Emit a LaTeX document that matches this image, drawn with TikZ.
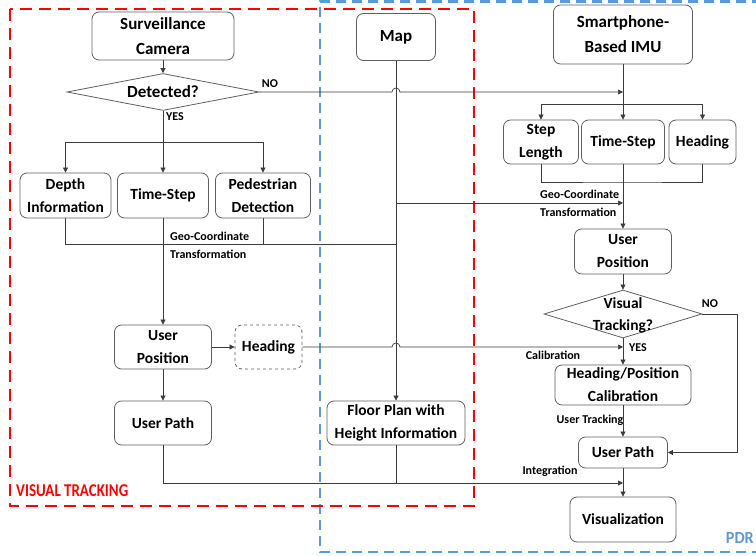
\documentclass[tikz,border=0pt]{standalone}
\usepackage{fontspec}
\setmainfont{Carlito}
\usetikzlibrary{shapes.geometric,arrows.meta,calc}
\definecolor{boxline}{RGB}{95,95,95}
\definecolor{wirecol}{RGB}{60,60,60}
\definecolor{vtred}{RGB}{255,0,0}
\definecolor{pdrblue}{RGB}{91,155,213}
\begin{document}
\begin{tikzpicture}[x=1pt,y=-1pt,
  box/.style={draw=boxline, line width=0.8pt, rounded corners=7pt, fill=white,
    align=center, inner sep=0pt, font=\fontsize{15.5}{23}\selectfont\bfseries},
  topbox/.style={box, font=\fontsize{17}{25}\selectfont\bfseries},
  decision/.style={draw=boxline, line width=0.8pt, diamond, inner sep=0pt, fill=white},
  wire/.style={draw=wirecol, line width=0.7pt},
  arr/.style={wire, -{Triangle[length=5pt,width=5pt]}},
  tag/.style={font=\fontsize{12}{18}\selectfont\bfseries, inner sep=0pt, align=left},
  frametag/.style={font=\fontsize{18}{20}\selectfont\bfseries, inner sep=0pt},
]
\useasboundingbox (0,0) rectangle (756,556);

% group frames
\draw[pdrblue, line width=2.6pt, dash pattern=on 10pt off 6pt]
  (762,1.5) -- (320,1.5) -- (320,552) -- (762,552);
\draw[vtred, line width=2.6pt, dash pattern=on 12pt off 7pt]
  (10,9) rectangle (474,506);
\node[frametag, text=vtred, anchor=west] (vtlabel) at (16,491) {\scalebox{0.83}[1]{VISUAL TRACKING}};
\node[frametag, text=pdrblue, anchor=east, font=\fontsize{17}{20}\selectfont\bfseries] (pdrlabel) at (754,538) {\scalebox{0.95}[1]{PDR}};

% visual tracking column
\node[topbox, minimum width=142pt, minimum height=48pt] (cam) at (163,36) {Surveillance\\Camera};
\node[decision, aspect=5, minimum width=192pt, minimum height=37pt,
      font=\fontsize{17}{20}\selectfont\bfseries] (det) at (163,92) {Detected?};
\node[box, minimum width=91pt, minimum height=45pt] (dep) at (65.5,195.5) {Depth\\Information};
\node[box, minimum width=91pt, minimum height=45pt] (ts1) at (163,195.5) {Time-Step};
\node[box, minimum width=95pt, minimum height=45pt] (ped) at (263,195.5) {Pedestrian\\Detection};
\node[box, minimum width=97pt, minimum height=44pt] (up1) at (163,347) {User\\Position};
\node[box, dashed, minimum width=67pt, minimum height=44pt] (hd1) at (268.5,347) {Heading};
\node[box, minimum width=97pt, minimum height=44pt] (path1) at (163,423) {User Path};

% map column
\node[topbox, minimum width=79pt, minimum height=47pt] (map) at (396,37) {Map};
\node[box, minimum width=138pt, minimum height=44pt] (fp) at (396,423) {Floor Plan with\\Height Information};

% PDR column
\node[topbox, minimum width=139pt, minimum height=59pt] (imu) at (623,34.5) {Smartphone-\\Based IMU};
\node[box, minimum width=75pt, minimum height=44pt] (sl) at (541,142) {Step\\Length};
\node[box, minimum width=83pt, minimum height=44pt] (ts2) at (623,142) {Time-Step};
\node[box, minimum width=67pt, minimum height=44pt] (hd2) at (702.5,142) {Heading};
\node[box, minimum width=97pt, minimum height=45pt] (up2) at (623,251.5) {User\\Position};
\node[decision, aspect=3.3, minimum width=158pt, minimum height=48pt] (vt) at (623,314) {};
\node[box, draw=none, fill=none, font=\fontsize{15.5}{22}\selectfont\bfseries] (vttext) at (623,315) {Visual\\Tracking?};
\node[box, minimum width=136pt, minimum height=40pt] (cal) at (623,385) {Heading/Position\\Calibration};
\node[box, minimum width=89pt, minimum height=31pt] (path2) at (623,452.5) {User Path};
\node[box, minimum width=106pt, minimum height=45pt] (vis) at (623,519.5) {Visualization};

% junction points
\coordinate (jl) at (163,142);
\coordinate (geoL) at (396,244);
\coordinate (noin) at (623,92);
\coordinate (jr) at (623,104);
\coordinate (jn) at (623,182);
\coordinate (geoR) at (623,203);
\coordinate (noR) at (737,314);
\coordinate (calin) at (623,347);
\coordinate (intin) at (623,483);

% visual tracking flow
\draw[arr] (cam.south) -- (det.north);
\draw[wire] (det.south) -- (jl);
\draw[arr] (jl) -| (dep.north);
\draw[arr] (jl) -- (ts1.north);
\draw[arr] (jl) -| (ped.north);
\draw[wire] (dep.south) |- (geoL);
\draw[wire] (ped.south) -- (ped.south |- geoL);
\draw[arr] (ts1.south) -- (up1.north);
\draw[arr] (up1.east) -- (hd1.west);
\draw[arr] (up1.south) -- (path1.north);

% NO branch hops over the map line
\draw[arr] (det.east) -- ($(map.south |- det.east)+(-4,0)$)
  arc[start angle=180, end angle=0, radius=4pt] -- (noin);

% map line
\draw[arr] (map.south) -- (fp.north);
\draw[arr] (map.south |- geoR) -- (geoR);

% PDR flow
\draw[wire] (imu.south) -- (jr);
\draw[arr] (jr) -| (sl.north);
\draw[arr] (jr) -- (ts2.north);
\draw[arr] (jr) -| (hd2.north);
\draw[wire] (sl.south) |- (jn) -| (hd2.south);
\draw[arr] (ts2.south) -- (up2.north);
\draw[arr] (up2.south) -- (vt.north);
\draw[arr] (vt.south) -- (cal.north);
\draw[wire] (vt.east) -- (noR);
\draw[arr] (noR) |- (path2.east);
\draw[arr] (cal.south) -- (path2.north);
\draw[arr] (path2.south) -- (vis.north);

% heading calibration hops over the map line
\draw[arr] (hd1.east) -- ($(map.south |- hd1.east)+(-4,0)$)
  arc[start angle=180, end angle=0, radius=4pt] -- (calin);

% integration
\draw[arr] (path1.south) |- (intin);
\draw[wire] (fp.south) -- (fp.south |- intin);

% connector labels
\node[tag] (noL) at (270,84) {NO};
\node[tag] (yesL) at (175,117) {YES};
\node[tag, anchor=west] (geoLtxt) at (170,245) {Geo-Coordinate\\Transformation};
\node[tag, anchor=west] (geoRtxt) at (540,203.5) {Geo-Coordinate\\Transformation};
\node[tag] (noRtxt) at (710,304) {NO};
\node[tag] (yesR) at (638,348) {YES};
\node[tag] (calL) at (553,355) {Calibration};
\node[tag] (trackL) at (590,420) {User Tracking};
\node[tag] (intL) at (550,471) {Integration};
\end{tikzpicture}
\end{document}
